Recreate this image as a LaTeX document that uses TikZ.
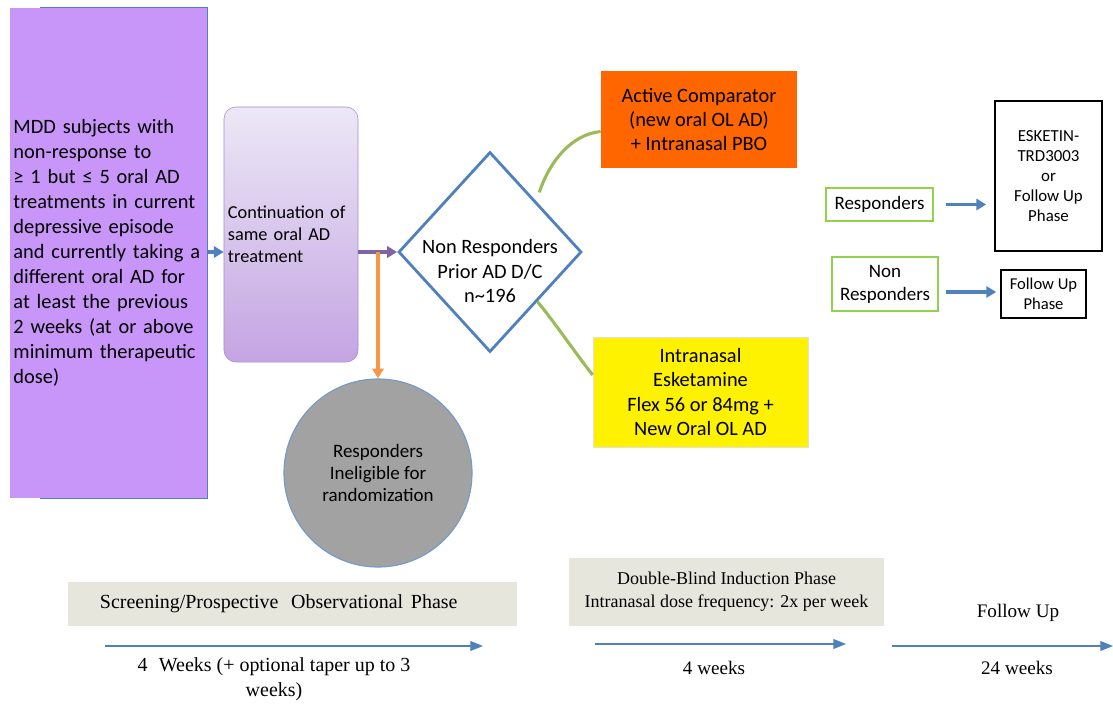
\documentclass[tikz,border=0pt]{standalone}
\usepackage{fontspec}
\setmainfont{Carlito}
\newfontfamily\phasefont{Liberation Serif}
\usepackage{xcolor}
\usepackage{tikz}
\usetikzlibrary{
arrows.meta,
positioning,
shapes.geometric,
calc
}
\definecolor{mddpurple}{HTML}{C896F8}
\definecolor{contedge}{HTML}{A590C8}
\definecolor{conttop}{HTML}{ECE8F6}
\definecolor{contbottom}{HTML}{C4A4E2}
\definecolor{flowblue}{HTML}{4F81BD}
\definecolor{flowpurple}{HTML}{8064A2}
\definecolor{floworange}{HTML}{F79646}
\definecolor{armorange}{HTML}{FF6600}
\definecolor{armgreen}{HTML}{9BBB59}
\definecolor{outgreen}{HTML}{92D050}
\definecolor{circlegray}{HTML}{A2A2A2}
\definecolor{phasegray}{HTML}{E6E6DD}

\begin{document}
\begin{tikzpicture}[
x=0.025cm,y=-0.025cm,
subjbox/.style={
fill=mddpurple,
minimum width=4.925cm,
minimum height=12.25cm,
text width=4.75cm,
inner sep=0pt,
align=left,
font=\fontsize{14.5}{17.8}\selectfont
},
contbox/.style={
draw=contedge,
rounded corners=0.3cm,
top color=conttop,
bottom color=contbottom,
minimum width=3.35cm,
minimum height=6.375cm,
text width=3.15cm,
inner sep=0pt,
align=left,
font=\fontsize{13}{15.6}\selectfont
},
decision/.style={
diamond,
draw=flowblue,
line width=2pt,
minimum width=4.575cm,
minimum height=5cm,
inner sep=0pt
},
armbox/.style={
align=center,
inner sep=0pt,
font=\fontsize{14.5}{17.4}\selectfont
},
outbox/.style={
draw=outgreen,
line width=1.2pt,
align=center,
inner sep=0pt,
font=\fontsize{13.5}{16.4}\selectfont
},
endbox/.style={
draw=black,
line width=1.2pt,
align=center,
inner sep=0pt,
font=\fontsize{12}{14.2}\selectfont
},
phaseband/.style={
fill=phasegray,
inner sep=0pt,
font=\phasefont\fontsize{12.8}{16.4}\selectfont
},
phasetext/.style={
align=center,
inner sep=0pt,
font=\phasefont\fontsize{13.6}{17.8}\selectfont
},
arm/.style={armgreen,line width=2.2pt},
arrow/.style={-{Triangle[length=7pt,width=8pt]},line width=2.6pt},
timeline/.style={flowblue,line width=0.9pt,-{Triangle[length=9pt,width=7pt]}}
]

\useasboundingbox (0,0) rectangle (1113,704);

\node[subjbox] (subj) at (108.5,253) {MDD subjects with\\non-response to\\≥ 1 but ≤ 5 oral AD\\treatments in current\\depressive episode\\and currently taking a\\different oral AD for\\at least the previous\\2 weeks (at or above\\minimum therapeutic\\dose)};
\draw[flowblue,line width=1pt] ([xshift=0.75cm]subj.north west) -- (subj.north east) -- (subj.south east) -- ([xshift=0.75cm]subj.south west);

\node[contbox] (cont) at (291,234.5) {Continuation of\\same oral AD\\treatment};
\node[decision] (nr) at (490,252) {};
\node[armbox] (nrlabel) at (490,271) {Non Responders\\Prior AD D/C\\n\textasciitilde196};

\node[armbox,fill=armorange,minimum width=4.9cm,minimum height=2.425cm] (comp) at (699,119.5) {Active Comparator\\(new oral OL AD)\\+ Intranasal PBO};
\node[armbox,fill=yellow,draw=black!12,minimum width=5.375cm,minimum height=2.75cm] (esk) at (700.5,392) {Intranasal\\Esketamine\\Flex 56 or 84mg +\\New Oral OL AD};

\node[circle,fill=circlegray,draw=flowblue!80,line width=0.8pt,minimum size=4.7cm,inner sep=0pt,align=center,font=\fontsize{13.5}{15.6}\selectfont] (inel) at (378,473) {Responders\\Ineligible for\\randomization};

\node[outbox,minimum width=2.675cm,minimum height=0.825cm] (resp) at (879.5,204.5) {Responders};
\node[outbox,minimum width=2.65cm,minimum height=1.35cm] (nonresp) at (885,284) {Non\\Responders};
\node[endbox,minimum width=2.675cm,minimum height=3.75cm] (ext) at (1048.5,176) {ESKETIN-\\TRD3003\\or\\Follow Up\\Phase};
\node[endbox,font=\fontsize{11.8}{14.2}\selectfont,minimum width=2.125cm,minimum height=1.2cm] (fu) at (1043.5,294) {Follow Up\\Phase};

\coordinate (split) at (378,252);

\draw[arrow,flowblue,line width=2.4pt] (subj.east |- split) -- (cont.west |- split);
\draw[arrow,flowpurple] (cont.east |- split) -- (nr.west);
\draw[arrow,floworange,line width=2.6pt] (split) -- (inel.north);

\draw[arm] ([yshift=0.3cm]$(nr.north)!0.53!(nr.east)$) .. controls +(10,-30) and +(-30,3) .. ([yshift=-0.3cm]comp.west);
\draw[arm] ($(nr.east)!0.49!(nr.south)$) .. controls +(14,16) and +(-16,-20) .. ([yshift=0.425cm]esk.west);

\draw[arrow,flowblue,line width=2.8pt,shorten <=0.3cm,shorten >=0.2cm] (resp.east) -- (resp.east -| ext.west);
\draw[arrow,flowblue,line width=2.8pt,shorten <=0.18cm,shorten >=0.1cm] (nonresp.east |- 0,292) -- (fu.west |- 0,292);

\node[phaseband,font=\phasefont\fontsize{14.2}{17}\selectfont,minimum width=11.225cm,minimum height=1.1cm,text width=9.625cm,inner xsep=0.8cm,align=left] (screen) at (292.5,604) {Screening/Prospective\hspace{9pt}Observational\hspace{5.5pt}Phase};
\node[phaseband,minimum width=7.875cm,minimum height=1.7cm,align=center] (induct) at (726.5,592) {Double-Blind Induction Phase\\Intranasal dose frequency: 2x per week};
\node[phasetext] (fulabel) at (1018,613) {Follow Up};

\coordinate (t1a) at (105,646);
\coordinate (t1b) at (483,646);
\coordinate (t2a) at (595,644);
\coordinate (t2b) at (846,644);
\coordinate (t3a) at (892,646);
\coordinate (t3b) at (1113,646);
\draw[timeline] (t1a) -- (t1b);
\draw[timeline] (t2a) -- (t2b);
\draw[timeline] (t3a) -- (t3b);

\node[phasetext,font=\phasefont\fontsize{14.2}{17.8}\selectfont] (w1) at (274,679) {4\hspace{8pt}Weeks (+ optional taper up to 3\\weeks)};
\node[phasetext] (w2) at (714,668) {4 weeks};
\node[phasetext] (w3) at (1017,668) {24 weeks};

\end{tikzpicture}
\end{document}
